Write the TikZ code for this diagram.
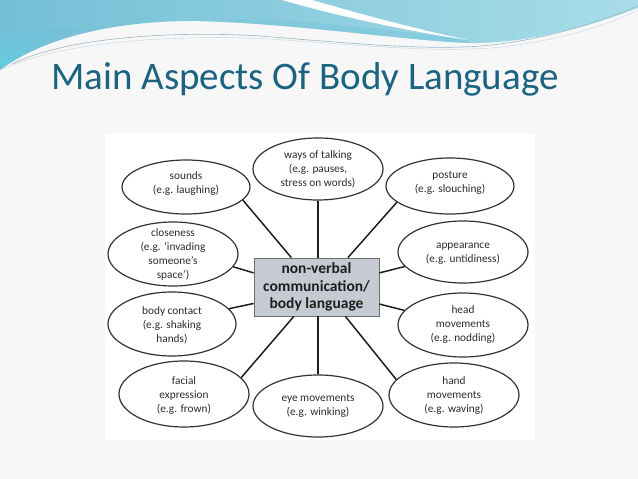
\documentclass[tikz,border=0pt]{standalone}
\usepackage{fontspec}
\setmainfont{Carlito}
\usetikzlibrary{shapes.geometric,calc}
\definecolor{slidebg}{HTML}{F7F7F7}
\definecolor{hdrL}{HTML}{74BFD6}
\definecolor{hdrM}{HTML}{7CC6DC}
\definecolor{hdrR}{HTML}{A8DDE8}
\definecolor{hdrCyan}{HTML}{5ED2E6}
\definecolor{hdrLine}{HTML}{9DB7C6}
\definecolor{titlec}{HTML}{1B6380}
\definecolor{bubline}{HTML}{333333}
\definecolor{txtc}{HTML}{2C2C2C}
\definecolor{hubfill}{HTML}{C6CAD2}
\definecolor{hubline}{HTML}{6E6E6E}
\definecolor{linkc}{HTML}{1E1E1E}
\tikzset{
  bub/.style={ellipse, draw=bubline, line width=1.2pt, fill=white, inner sep=0pt},
  txt/.style={align=center, font=\fontsize{11.3}{14}\selectfont, text=txtc, inner sep=0pt},
  hub/.style={draw=hubline, fill=hubfill, line width=0.8pt, minimum width=125pt,
    minimum height=58pt, inner sep=0pt, align=center, text=linkc,
    font=\bfseries\fontsize{15.5}{17.3}\selectfont},
  link/.style={draw=linkc, line width=1.5pt}
}
\begin{document}
\begin{tikzpicture}[x=1pt,y=-1pt]
\useasboundingbox (0,0) rectangle (638,479);
\fill[slidebg] (0,0) rectangle (638,479);
% header band
\shade[left color=hdrL, right color=hdrR]
  (0,0) -- (638,0) -- (638,8) .. controls (580,30) and (520,44) .. (468,43)
  .. controls (400,40) and (300,24) .. (200,21)
  .. controls (110,20) and (40,40) .. (0,70) -- cycle;
\shade[top color=hdrL, bottom color=hdrCyan, opacity=0.7]
  (0,30) .. controls (30,28) and (60,30) .. (90,28)
  .. controls (60,34) and (25,50) .. (0,70) -- cycle;
\fill[hdrM, opacity=0.6]
  (468,43) .. controls (400,40) and (300,24) .. (200,21)
  .. controls (260,14) and (380,28) .. (468,40) -- cycle;
\fill[white] (282,0) -- (312,0) .. controls (360,14) and (420,30) .. (468,40)
  .. controls (400,30) and (330,14) .. (282,0) -- cycle;
\draw[hdrLine, line width=0.6pt] (12,64) .. controls (60,40) and (160,30) .. (260,36)
  .. controls (360,44) and (440,52) .. (500,44) .. controls (560,36) and (610,18) .. (638,6);
\draw[hdrLine!60, line width=0.4pt] (0,70) .. controls (60,42) and (170,34) .. (270,39)
  .. controls (370,46) and (450,54) .. (510,46) .. controls (570,38) and (615,22) .. (638,10);
% title
\node[anchor=base west, font=\fontsize{39}{44}\selectfont, text=titlec, inner sep=0pt]
  (title) at (51,89) {Main Aspects Of Body Language};
% diagram background
\fill[white] (105,133) rectangle (535,440);
% hub
\node[hub] (hub) at (316.5,287) {non-verbal\\communication/\\body language};
% bubbles
\node[bub, minimum width=128pt, minimum height=54pt] (sounds) at (186,187) {};
\node[txt] (soundsT) at (186,184) {sounds\\(e.g. laughing)};
\node[bub, minimum width=130pt, minimum height=62pt] (ways) at (318,169) {};
\node[txt] (waysT) at (318,169) {ways of talking\\(e.g. pauses,\\stress on words)};
\node[bub, minimum width=128pt, minimum height=56pt] (posture) at (450,186) {};
\node[txt] (postureT) at (450,183) {posture\\(e.g. slouching)};
\node[bub, minimum width=130pt, minimum height=64pt] (closeness) at (173,254) {};
\node[txt] (closenessT) at (173,254) {closeness\\(e.g. `invading\\someone's\\space')};
\node[bub, minimum width=130pt, minimum height=62pt] (appearance) at (463,252) {};
\node[txt] (appearanceT) at (463,254) {appearance\\(e.g. untidiness)};
\node[bub, minimum width=128pt, minimum height=64pt] (contact) at (172,324) {};
\node[txt] (contactT) at (172,325) {body contact\\(e.g. shaking\\hands)};
\node[bub, minimum width=130pt, minimum height=64pt] (head) at (463,325) {};
\node[txt] (headT) at (463,325) {head\\movements\\(e.g. nodding)};
\node[bub, minimum width=130pt, minimum height=66pt] (facial) at (184,394) {};
\node[txt] (facialT) at (184,396) {facial\\expression\\(e.g. frown)};
\node[bub, minimum width=130pt, minimum height=62pt] (eye) at (318,406) {};
\node[txt] (eyeT) at (318,406) {eye movements\\(e.g. winking)};
\node[bub, minimum width=130pt, minimum height=64pt] (hand) at (454,395) {};
\node[txt] (handT) at (454,396) {hand\\movements\\(e.g. waving)};
% connectors
\draw[link] (sounds.-13) -- ($(hub.north west)!0.30!(hub.north east)$);
\draw[link] (ways.south) -- (ways.south |- hub.north);
\draw[link] (posture.-163) -- ($(hub.north west)!0.75!(hub.north east)$);
\draw[link] (closeness.-12) -- ($(hub.north west)!0.26!(hub.south west)$);
\draw[link] (contact.15) -- ($(hub.north west)!0.78!(hub.south west)$);
\draw[link] (appearance.194) -- ($(hub.north east)!0.26!(hub.south east)$);
\draw[link] (head.166) -- ($(hub.north east)!0.79!(hub.south east)$);
\draw[link] (facial.16) -- ($(hub.south west)!0.32!(hub.south east)$);
\draw[link] (eye.north) -- (eye.north |- hub.south);
\draw[link] (hand.165) -- ($(hub.south west)!0.73!(hub.south east)$);
\end{tikzpicture}
\end{document}
